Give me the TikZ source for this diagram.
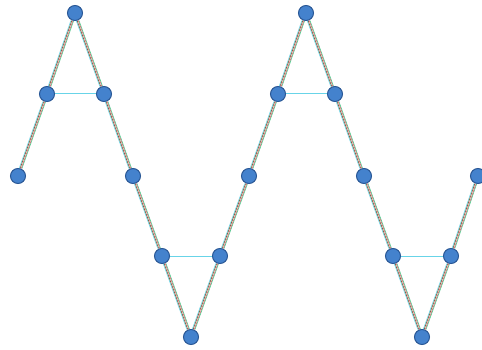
\documentclass[tikz,border=0pt]{standalone}
\usetikzlibrary{backgrounds}
\definecolor{dotfill}{RGB}{68,130,205}
\definecolor{dotedge}{RGB}{42,88,150}
\definecolor{wred}{RGB}{232,92,112}
\definecolor{wgreen}{RGB}{82,200,140}
\definecolor{wcyan}{RGB}{104,212,232}
\definecolor{wolive}{RGB}{112,92,52}

\begin{document}
\begin{tikzpicture}[x=1pt,y=-1pt,
 dot/.style={circle,draw=dotedge,fill=dotfill,line width=1pt,minimum size=15pt,inner sep=0pt},
 wire/.style={line width=0.6pt}]
\useasboundingbox (0,0) rectangle (482,350);
% the nodes of the wave
\foreach \n/\x/\y in {a/18/176,b/47/94,c/75/13,d/104/94,e/133/176,f/162/256,g/191/337,
 h/220/256,i/249/176,j/278/94,k/306/13,l/335/94,m/364/176,n/393/256,o/422/337,
 p/451/256,q/478/176}
  \node[dot] (\n) at (\x,\y) {};
\begin{pgfonlayer}{background}
\foreach \col/\s in {wcyan/-1.5,wolive/-0.6,wred/0.6,wgreen/1.3}
  \draw[wire,\col,transform canvas={xshift=\s pt}] (a)--(b)--(c)--(d)--(e)--(f)--(g)--(h)--(i)
   --(j)--(k)--(l)--(m)--(n)--(o)--(p)--(q);
\draw[wcyan,line width=1pt] (b)--(d) (f)--(h) (j)--(l) (n)--(p);
\end{pgfonlayer}
\end{tikzpicture}
\end{document}
